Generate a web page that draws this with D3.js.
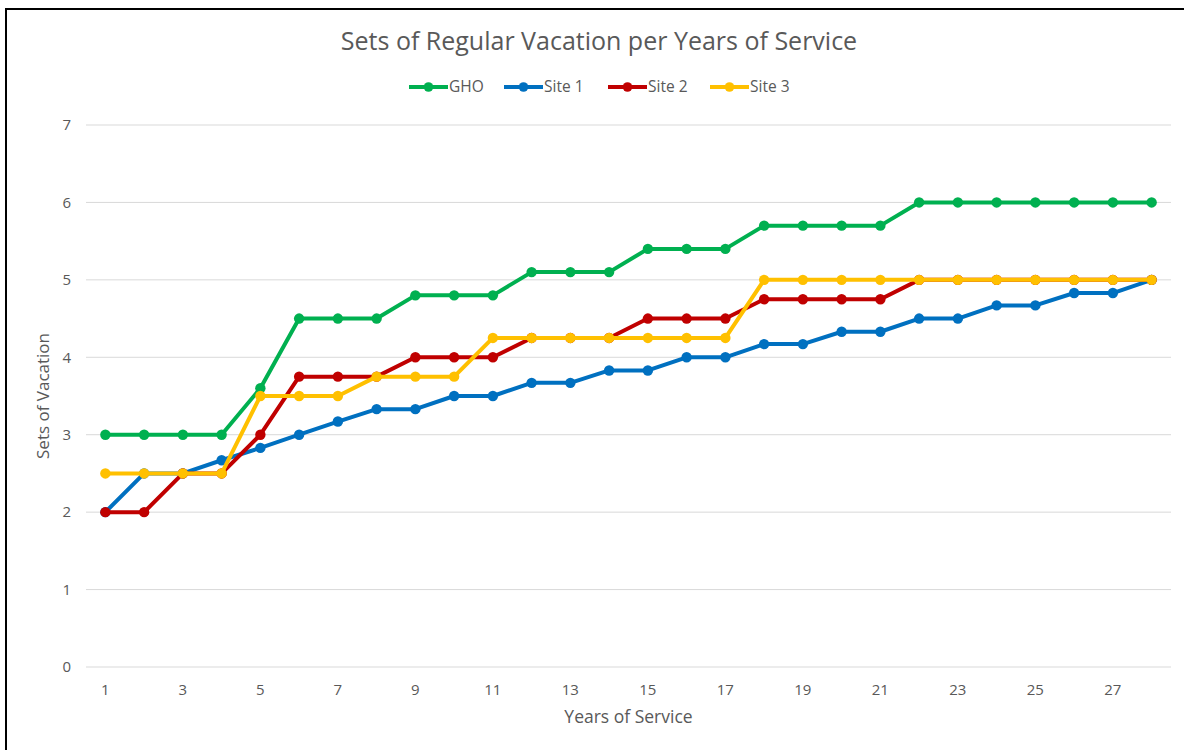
<!DOCTYPE html>
<html>
<head>
<meta charset="utf-8">
<script src="https://cdn.jsdelivr.net/npm/d3@7"></script>
<style>
  body { margin: 0; background: #fff; }
  svg { display: block; font-family: "Open Sans", "Liberation Sans", sans-serif; }
</style>
</head>
<body>
<div id="chart"></div>
<script>
const years = d3.range(1, 29);
const gho   = [3, 3, 3, 3, 3.6, 4.5, 4.5, 4.5, 4.8, 4.8, 4.8, 5.1, 5.1, 5.1, 5.4, 5.4, 5.4, 5.7, 5.7, 5.7, 5.7, 6, 6, 6, 6, 6, 6, 6];
const site1 = [2, 2.5, 2.5, 2.67, 2.83, 3, 3.17, 3.33, 3.33, 3.5, 3.5, 3.67, 3.67, 3.83, 3.83, 4, 4, 4.17, 4.17, 4.33, 4.33, 4.5, 4.5, 4.67, 4.67, 4.83, 4.83, 5];
const site2 = [2, 2, 2.5, 2.5, 3, 3.75, 3.75, 3.75, 4, 4, 4, 4.25, 4.25, 4.25, 4.5, 4.5, 4.5, 4.75, 4.75, 4.75, 4.75, 5, 5, 5, 5, 5, 5, 5];
const site3 = [2.5, 2.5, 2.5, 2.5, 3.5, 3.5, 3.5, 3.75, 3.75, 3.75, 4.25, 4.25, 4.25, 4.25, 4.25, 4.25, 4.25, 5, 5, 5, 5, 5, 5, 5, 5, 5, 5, 5];
const yTicks = [0, 1, 2, 3, 4, 5, 6, 7];

const series = [
  { name: "GHO", values: gho, color: "#00B050" },
  { name: "Site 1", values: site1, color: "#0070C0" },
  { name: "Site 2", values: site2, color: "#C00000" },
  { name: "Site 3", values: site3, color: "#FFC000" }
];

const width = 1184, height = 750;
const margin = { top: 125, right: 13, bottom: 83, left: 86 };

const svg = d3.select("#chart").append("svg")
  .attr("width", width)
  .attr("height", height);

// frame around the screenshot
svg.append("rect")
  .attr("x", 6).attr("y", 9)
  .attr("width", width + 20).attr("height", height + 20)
  .attr("fill", "none").attr("stroke", "#000").attr("stroke-width", 2);

const x = d3.scaleBand()
  .domain(years)
  .range([margin.left, width - margin.right]);

const y = d3.scaleLinear()
  .domain([0, 7])
  .range([height - margin.bottom, margin.top]);

const cx = d => x(d) + x.bandwidth() / 2;

// gridlines
svg.append("g")
  .selectAll("line")
  .data(yTicks)
  .join("line")
  .attr("x1", margin.left).attr("x2", width - margin.right)
  .attr("y1", d => y(d)).attr("y2", d => y(d))
  .attr("stroke", "#d9d9d9").attr("stroke-width", 1);

// y labels
svg.append("g")
  .selectAll("text")
  .data(yTicks)
  .join("text")
  .attr("x", 71).attr("y", d => y(d))
  .attr("dy", "0.35em")
  .attr("text-anchor", "end")
  .attr("fill", "#595959")
  .attr("font-size", 15)
  .text(d => d);

// x labels (every other year)
svg.append("g")
  .selectAll("text")
  .data(years.filter(d => d % 2 === 1))
  .join("text")
  .attr("x", d => cx(d)).attr("y", 695)
  .attr("text-anchor", "middle")
  .attr("fill", "#595959")
  .attr("font-size", 15)
  .text(d => d);

// axis titles
svg.append("text")
  .attr("x", (margin.left + width - margin.right) / 2).attr("y", 723)
  .attr("text-anchor", "middle")
  .attr("fill", "#595959").attr("font-size", 17.5)
  .text("Years of Service");

svg.append("text")
  .attr("transform", `translate(49, ${y(3.5)}) rotate(-90)`)
  .attr("text-anchor", "middle")
  .attr("fill", "#595959").attr("font-size", 17)
  .text("Sets of Vacation");

// title
svg.append("text")
  .attr("x", 599).attr("y", 50)
  .attr("text-anchor", "middle")
  .attr("fill", "#595959").attr("font-size", 25)
  .text("Sets of Regular Vacation per Years of Service");

// lines
const line = d3.line()
  .x((d, i) => cx(years[i]))
  .y(d => y(d));

series.forEach(s => {
  const g = svg.append("g");
  g.append("path")
    .attr("d", line(s.values))
    .attr("fill", "none")
    .attr("stroke", s.color)
    .attr("stroke-width", 4)
    .attr("stroke-linejoin", "round");
  g.selectAll("circle")
    .data(s.values)
    .join("circle")
    .attr("cx", (d, i) => cx(years[i]))
    .attr("cy", d => y(d))
    .attr("r", 5.2)
    .attr("fill", s.color);
});

// legend
const legendX = [409, 504, 608, 710];
const legend = svg.append("g");
series.forEach((s, i) => {
  const lg = legend.append("g").attr("transform", `translate(${legendX[i]}, 87)`);
  lg.append("line").attr("x1", 0).attr("x2", 39).attr("y1", 0).attr("y2", 0)
    .attr("stroke", s.color).attr("stroke-width", 4);
  lg.append("circle").attr("cx", 19.5).attr("cy", 0).attr("r", 4.8).attr("fill", s.color);
  lg.append("text").attr("x", 40).attr("y", 0).attr("dy", "0.35em")
    .attr("fill", "#595959").attr("font-size", 15.5)
    .text(s.name);
});
</script>
</body>
</html>
